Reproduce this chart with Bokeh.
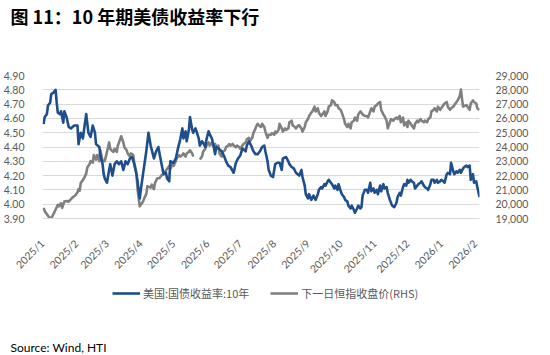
import numpy as np
from bokeh.plotting import figure
from bokeh.layouts import column
from bokeh.models import (Range1d, LinearAxis, FixedTicker, NumeralTickFormatter,
                          Legend, LegendItem, Title, ColumnDataSource)
from bokeh.embed import file_html
from bokeh.resources import INLINE

# ---------------- data (x = days since 2025-01-01) ----------------
month_ticks = [0, 31, 59, 90, 120, 151, 181, 212, 243, 273, 304, 334, 365, 396]
month_labels = ["2025/1", "2025/2", "2025/3", "2025/4", "2025/5", "2025/6", "2025/7",
                "2025/8", "2025/9", "2025/10", "2025/11", "2025/12", "2026/1", "2026/2"]

ust_days = [
    1, 2, 4, 5, 7, 8, 10, 12, 13, 14,
    16, 17, 19, 20, 22, 24, 26, 29, 32, 33,
    35, 37, 38, 40, 42, 44, 46, 48, 49, 52,
    53, 55, 56, 57, 59, 61, 62, 64, 66, 68,
    70, 72, 74, 76, 78, 80, 82, 84, 86, 87,
    89, 90, 92, 95, 97, 99, 102, 104, 106, 108,
    110, 111, 113, 114, 116, 117, 120, 122, 124, 126,
    128, 129, 131, 132, 134, 135, 137, 138, 140, 141,
    143, 144, 146, 147, 149, 150, 152, 153, 155, 156,
    158, 159, 161, 164, 166, 168, 170, 172, 175, 177,
    179, 181, 183, 186, 187, 189, 191, 193, 195, 197,
    199, 201, 203, 204, 206, 207, 209, 211, 213, 215,
    217, 219, 220, 223, 225, 226, 228, 230, 232, 235,
    237, 238, 240, 241, 243, 244, 246, 248, 250, 252,
    253, 255, 256, 258, 259, 261, 262, 264, 265, 267,
    268, 270, 271, 273, 274, 276, 277, 279, 280, 282,
    283, 285, 286, 288, 289, 291, 292, 293, 295, 297,
    298, 300, 301, 303, 304, 306, 307, 309, 310, 312,
    313, 315, 316, 318, 320, 322, 324, 325, 327, 328,
    330, 331, 333, 334, 335, 337, 338, 340, 341, 343,
    344, 346, 347, 349, 350, 352, 353, 355, 356, 358,
    359, 361, 362, 364, 365, 367, 368, 370, 371, 373,
    374, 376, 377, 379, 380, 382, 383, 385, 386, 388,
    389, 391, 392, 394, 395, 397, 398, 400]
ust_10y = [
    4.56, 4.61, 4.63, 4.69, 4.71, 4.77, 4.78, 4.80, 4.71, 4.64,
    4.63, 4.65, 4.57, 4.65, 4.61, 4.54, 4.53, 4.55, 4.55, 4.42,
    4.50, 4.46, 4.52, 4.63, 4.50, 4.47, 4.55, 4.50, 4.42, 4.40,
    4.34, 4.28, 4.21, 4.18, 4.15, 4.24, 4.28, 4.20, 4.28, 4.30,
    4.28, 4.30, 4.24, 4.30, 4.28, 4.32, 4.33, 4.28, 4.21, 4.16,
    4.04, 4.10, 4.21, 4.37, 4.50, 4.41, 4.32, 4.37, 4.40, 4.32,
    4.24, 4.21, 4.22, 4.18, 4.16, 4.30, 4.29, 4.32, 4.39, 4.45,
    4.53, 4.46, 4.51, 4.44, 4.52, 4.61, 4.52, 4.50, 4.53, 4.51,
    4.46, 4.41, 4.44, 4.43, 4.40, 4.45, 4.51, 4.49, 4.46, 4.43,
    4.35, 4.40, 4.39, 4.37, 4.34, 4.30, 4.27, 4.26, 4.22, 4.29,
    4.32, 4.34, 4.39, 4.37, 4.41, 4.44, 4.41, 4.37, 4.35, 4.35,
    4.37, 4.40, 4.41, 4.37, 4.30, 4.24, 4.20, 4.19, 4.28, 4.29,
    4.29, 4.24, 4.32, 4.33, 4.30, 4.28, 4.26, 4.25, 4.22, 4.20,
    4.24, 4.19, 4.13, 4.07, 4.04, 4.07, 4.03, 4.06, 4.03, 4.07,
    4.10, 4.12, 4.11, 4.14, 4.13, 4.16, 4.17, 4.15, 4.14, 4.11,
    4.13, 4.10, 4.14, 4.09, 4.07, 4.05, 4.03, 4.02, 3.99, 3.97,
    3.99, 3.96, 3.94, 3.97, 3.99, 3.97, 3.98, 4.06, 4.10, 4.10,
    4.08, 4.15, 4.09, 4.11, 4.08, 4.10, 4.07, 4.13, 4.09, 4.14,
    4.11, 4.12, 4.08, 4.03, 3.99, 3.98, 4.01, 4.05, 4.08, 4.06,
    4.12, 4.14, 4.13, 4.17, 4.15, 4.17, 4.16, 4.15, 4.11, 4.13,
    4.14, 4.15, 4.16, 4.13, 4.12, 4.11, 4.10, 4.14, 4.17, 4.17,
    4.15, 4.17, 4.15, 4.16, 4.17, 4.16, 4.15, 4.21, 4.22, 4.21,
    4.29, 4.23, 4.21, 4.23, 4.22, 4.24, 4.22, 4.25, 4.26, 4.27,
    4.26, 4.27, 4.17, 4.21, 4.15, 4.16, 4.12, 4.05]

hsi_days = [
    1, 2, 4, 6, 8, 10, 12, 14, 15, 17,
    18, 20, 22, 24, 26, 28, 30, 32, 33, 34,
    35, 37, 38, 40, 41, 43, 44, 46, 47, 49,
    50, 52, 53, 55, 56, 57, 59, 61, 62, 63,
    65, 66, 68, 69, 71, 72, 74, 75, 77, 78,
    80, 81, 83, 84, 86, 87, 89, 90, 92, 93,
    95, 96, 99, 100, 102, 103, 105, 107, 109, 111,
    113, 114, 116, 117, 119, 120, 122, 123, 125, 126,
    128, 129, 131, 132, 134, 135, 137, 138, 140, 144,
    146, 147, 149, 150, 152, 153, 155, 156, 158, 159,
    161, 162, 164, 165, 167, 168, 170, 171, 172, 174,
    175, 177, 178, 180, 181, 183, 184, 186, 187, 189,
    190, 192, 193, 195, 196, 197, 198, 200, 201, 203,
    204, 206, 207, 209, 210, 212, 213, 214, 216, 217,
    219, 220, 222, 223, 225, 226, 228, 229, 231, 232,
    234, 235, 237, 238, 240, 241, 243, 244, 246, 247,
    249, 250, 252, 253, 255, 256, 258, 259, 261, 262,
    264, 265, 267, 268, 270, 271, 273, 274, 276, 277,
    279, 280, 282, 283, 285, 286, 288, 289, 291, 292,
    293, 295, 297, 298, 300, 301, 303, 304, 306, 307,
    309, 310, 312, 313, 315, 316, 318, 319, 321, 322,
    324, 325, 327, 328, 330, 331, 333, 334, 335, 337,
    338, 340, 341, 343, 344, 346, 347, 349, 350, 352,
    353, 355, 356, 358, 359, 361, 362, 364, 365, 367,
    368, 370, 371, 373, 374, 376, 377, 379, 380, 382,
    383, 384, 385, 388, 389, 391, 392, 394, 395, 397,
    398, 400]
nan = float("nan")
hsi_close = [
    19740, 19520, 19300, 19090, 19000, 19300, 19630, 19960, 19850, 20070,
    19740, 20180, 20220, 20180, 20350, 20500, 20610, 20830, 21050, 20940,
    21480, 21700, 21810, 22140, 22570, 22790, 23010, 22900, 23440, 23120,
    23440, 23010, 23770, 23010, 23010, 23010, 23660, 24320, 23880, 23770,
    23660, 23880, 23660, 24100, 24530, 24750, 24320, 23990, 23770, 23550,
    23330, 23550, 23440, 22900, 22140, 21050, 19850, 19960, 20180, 20390,
    20720, 21260, 21160, 21370, 21050, 21480, 21810, 21810, 22030, 22140,
    22350, 22460, 22680, 22460, 22790, 22680, 23010, 23230, 23440, 23330,
    23440, 23550, 23330, 23550, 23660, 23770, 23550, 23330, nan, 23120,
    23330, 23660, 23880, 24100, 24320, 24100, 24320, 24100, 24210, 23990,
    24100, 23550, 23330, 23660, 23770, 23990, 24100, 24210, 24100, 24210,
    24100, 23990, 24100, 23990, 23880, 24100, 24210, 24320, 24530, 24640,
    24420, 24640, 24970, 25300, 25510, 25620, 25510, 25400, 25620, 25400,
    25080, 24640, 24860, 24860, 24970, 24860, 25080, 24970, 25190, 25620,
    25300, 25080, 25300, 25190, 25300, 25730, 25840, 25510, 25400, 25300,
    25510, 25510, 25300, 25080, 25400, 25730, 25950, 26170, 26390, 26490,
    26820, 26490, 26710, 26390, 26170, 26280, 26490, 26170, 26490, 26820,
    26930, 27260, 27150, 26930, 26930, 26710, 26600, 26390, 25950, 25620,
    25400, 25620, 25300, 25730, 25840, 26060, 25840, 26280, 26490, 26390,
    26280, 26170, 26170, 26060, 26490, 26710, 26490, 26820, 26930, 27040,
    27150, 26600, 26280, 26170, 25840, 25300, 25730, 25950, 25840, 25950,
    26060, 25950, 26170, 25730, 26060, 25510, 25730, 25400, 25840, 25620,
    25510, 25300, 25620, 25840, 25730, 25950, 25840, 25730, 25840, 25730,
    25950, 26060, 26490, 26600, 26710, 26490, 26820, 26600, 26710, 26930,
    27040, 27150, 26820, 26600, 26710, 26820, 26930, 27150, 27260, 27580,
    28020, 27370, 26820, 26930, 26820, 26600, 27040, 27260, 27150, 27040,
    26710, 26600]

left_ticks = [3.9, 4.0, 4.1, 4.2, 4.3, 4.4, 4.5, 4.6, 4.7, 4.8, 4.9]
right_ticks = [19000, 20000, 21000, 22000, 23000, 24000, 25000, 26000, 27000, 28000, 29000]

title_text = "图 11：10 年期美债收益率下行"
source_text = "Source: Wind, HTI"
series_names = ["美国:国债收益率:10年", "下一日恒指收盘价(RHS)"]

# ---------------- styling ----------------
BLUE = "#1F4E8C"
GRAY = "#808080"
TICK_COLOR = "#595959"
GRID = "#D9D9D9"
LAT = "Lato"
CJK = "Noto Sans CJK SC"
W = 540
LW = 2.6


def text_strip(height):
    """A bare figure (no axes, no grid) used to hold text above / below the chart."""
    f = figure(width=W, height=height, output_backend="svg", toolbar_location=None,
               x_range=Range1d(0, 1), y_range=Range1d(0, 1),
               x_axis_location=None, y_axis_location=None,
               min_border=0)
    f.grid.visible = False
    f.outline_line_color = None
    f.background_fill_color = "white"
    f.border_fill_color = "white"
    return f


# ---------------- title strip ----------------
p_top = text_strip(68)
p_top.title.text = title_text
p_top.title.align = "left"
p_top.title.offset = -32
p_top.title.standoff = 0
p_top.title.text_font = CJK
p_top.title.text_font_size = "18px"
p_top.title.text_font_style = "bold"
p_top.title.text_color = "#000000"

# ---------------- main chart ----------------
p = figure(width=W, height=214, output_backend="svg", toolbar_location=None,
           x_range=Range1d(0, 400), y_range=Range1d(3.9, 4.9),
           min_border_left=32, min_border_right=61, min_border_top=7,
           min_border_bottom=54)
p.outline_line_color = None
p.background_fill_color = "white"
p.border_fill_color = "white"
p.extra_y_ranges = {"hsi": Range1d(19000, 29000)}

p.xgrid.grid_line_color = None
p.ygrid.grid_line_color = GRID
p.ygrid.grid_line_width = 1

src_ust = ColumnDataSource(dict(x=ust_days, y=ust_10y))
src_hsi = ColumnDataSource(dict(x=hsi_days, y=np.array(hsi_close, dtype=float)))

p.line("x", "y", source=src_hsi, y_range_name="hsi", line_color=GRAY,
       line_width=LW, line_join="round")
p.line("x", "y", source=src_ust, line_color=BLUE, line_width=LW, line_join="round")

xa = p.xaxis[0]
xa.ticker = FixedTicker(ticks=month_ticks)
xa.major_label_overrides = {t: lab for t, lab in zip(month_ticks, month_labels)}
xa.major_label_orientation = np.pi / 4
xa.axis_line_color = GRID
xa.major_tick_line_color = None
xa.minor_tick_line_color = None
xa.major_label_text_color = TICK_COLOR
xa.major_label_text_font = LAT
xa.major_label_text_font_size = "10.5px"
xa.major_label_standoff = 17

ya = p.yaxis[0]
ya.ticker = FixedTicker(ticks=left_ticks)
ya.formatter = NumeralTickFormatter(format="0.00")
ya.axis_line_color = None
ya.major_tick_line_color = None
ya.minor_tick_line_color = None
ya.major_label_text_color = TICK_COLOR
ya.major_label_text_font = LAT
ya.major_label_text_font_size = "10.5px"
ya.major_label_standoff = 12

ra = LinearAxis(y_range_name="hsi", ticker=FixedTicker(ticks=right_ticks),
                formatter=NumeralTickFormatter(format="0,0"))
ra.axis_line_color = None
ra.major_tick_line_color = None
ra.minor_tick_line_color = None
ra.major_label_text_color = TICK_COLOR
ra.major_label_text_font = LAT
ra.major_label_text_font_size = "10.5px"
ra.major_label_standoff = 10
p.add_layout(ra, "right")

# ---------------- legend + source strip ----------------
p_bot = text_strip(73)
# same series, styled identically; they fall outside this strip's ranges so only
# their legend swatches are visible
l_ust = p_bot.line(ust_days, ust_10y, line_color=BLUE, line_width=LW)
l_hsi = p_bot.line(hsi_days, hsi_close, line_color=GRAY, line_width=LW)
legend = Legend(items=[LegendItem(label=series_names[0], renderers=[l_ust]),
                       LegendItem(label=series_names[1], renderers=[l_hsi])],
                orientation="horizontal", location=(70, 35),
                background_fill_alpha=0, border_line_alpha=0,
                padding=0, margin=0, spacing=21, glyph_width=28, glyph_height=12,
                label_standoff=3, label_text_font=CJK, label_text_font_size="11px",
                label_text_color=TICK_COLOR, label_height=12)
p_bot.add_layout(legend)
p_bot.add_layout(Title(text=source_text, align="left", offset=-32, standoff=2,
                       text_font=LAT, text_font_size="12px", text_font_style="normal",
                       text_color="#000000"), "below")

layout = column(p_top, p, p_bot, spacing=0)
open("out.html", "w").write(file_html(layout, INLINE))
